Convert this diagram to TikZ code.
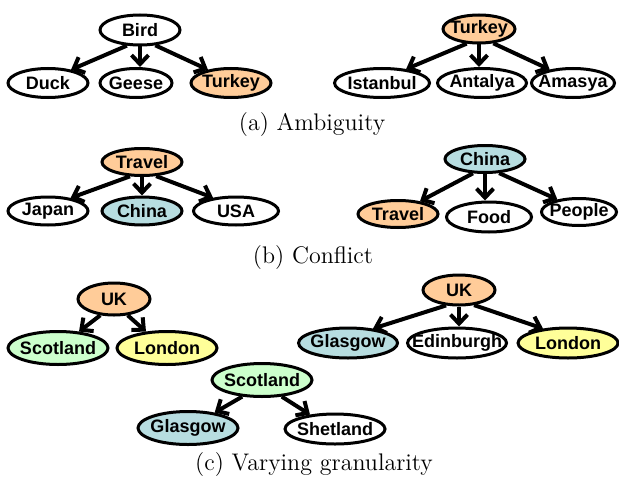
\documentclass[tikz,border=0pt]{standalone}
\usepackage{fontspec}
\usepackage{tikz}
\usetikzlibrary{shapes.geometric,arrows.meta}
\newfontfamily\arialfont{Liberation Sans}
\definecolor{peach}{HTML}{FFCC99}
\definecolor{paleteal}{HTML}{B7DDE0}
\definecolor{mint}{HTML}{CCFFCC}
\definecolor{lemon}{HTML}{FFFF99}

\begin{document}
\begin{tikzpicture}[x=0.5pt, y=-0.5pt,
  main/.style = {draw, ellipse, line width=1.5pt, fill=white, inner xsep=-30pt, inner ysep=-10pt,
    font=\arialfont\bfseries\fontsize{9}{10}\selectfont},
  wh/.style 2 args = {minimum width=#1*0.5pt, minimum height=#2*0.5pt},
  arr/.style = {line width=2pt, -{Straight Barb[length=4.5pt, width=8.5pt]}},
  subcap/.style = {font=\fontsize{12}{14}\selectfont}]
	\useasboundingbox (0,0) rectangle (619,481);
	% (a)
	\node[main, wh={80}{30}] (bird) at (140, 30) {Bird};
	\node[main, wh={80}{29}] (duck) at (48, 83) {Duck};
	\node[main, wh={72}{29}] (geese) at (136, 83) {Geese};
	\node[main, wh={80}{29}, fill=peach] (turkeyA) at (231, 83) {Turkey};
	\node[main, wh={72}{28}, fill=peach] (turkeyB) at (479, 29) {Turkey};
	\node[main, wh={95}{29}] (istanbul) at (382, 83) {Istanbul};
	\node[main, wh={89}{29}] (antalya) at (482, 83) {Antalya};
	\node[main, wh={83}{29}] (amasya) at (573, 83) {Amasya};
	\draw[arr] (bird.-130) -- (duck.30);
	\draw[arr] (bird.south) -- (bird.south |- geese.north);
	\draw[arr] (bird.-45) -- (turkeyA.150);
	\draw[arr] (turkeyB.-130) -- (istanbul.30);
	\draw[arr] (turkeyB.south) -- (turkeyB.south |- antalya.north);
	\draw[arr] (turkeyB.-45) -- (amasya.150);
	\node[subcap] (capA) at (312, 125) {(a) Ambiguity};
	% (b)
	\node[main, wh={80}{27}, fill=peach] (travelA) at (142, 162) {Travel};
	\node[main, wh={80}{28}] (japan) at (48, 211) {Japan};
	\node[main, wh={80}{28}, fill=paleteal] (chinaA) at (142, 211) {China};
	\node[main, wh={85}{28}] (usa) at (236, 211) {USA};
	\node[main, wh={80}{27}, fill=paleteal] (chinaB) at (485, 159) {China};
	\node[main, wh={80}{27}, fill=peach] (travelB) at (398, 214) {Travel};
	\node[main, wh={85}{30}] (food) at (489, 217) {Food};
	\node[main, wh={75}{27}] (people) at (579, 212) {People};
	\draw[arr] (travelA.-130) -- (japan.30);
	\draw[arr] (travelA.south) -- (travelA.south |- chinaA.north);
	\draw[arr] (travelA.-45) -- (usa.150);
	\draw[arr] (chinaB.-130) -- (travelB.30);
	\draw[arr] (chinaB.south) -- (chinaB.south |- food.north);
	\draw[arr] (chinaB.-45) -- (people.150);
	\node[subcap] (capB) at (313, 258) {(b) Conflict};
	% (c)
	\node[main, wh={72}{32}, fill=peach] (ukA) at (114, 299) {UK};
	\node[main, wh={100}{33}, fill=mint] (scotlandA) at (58, 348) {Scotland};
	\node[main, wh={100}{33}, fill=lemon] (londonA) at (167, 348) {London};
	\node[main, wh={100}{33}, fill=mint] (scotlandB) at (262, 380) {Scotland};
	\node[main, wh={100}{33}, fill=paleteal] (glasgowA) at (188, 428) {Glasgow};
	\node[main, wh={100}{30}] (shetland) at (335, 429) {Shetland};
	\node[main, wh={72}{30}, fill=peach] (ukB) at (459, 290) {UK};
	\node[main, wh={99}{30}, fill=paleteal] (glasgowB) at (348, 343) {Glasgow};
	\node[main, wh={99}{30}] (edinburgh) at (457, 343) {Edinburgh};
	\node[main, wh={100}{30}, fill=lemon] (londonB) at (568, 343) {London};
	\draw[arr] (ukA.-130) -- (scotlandA.38);
	\draw[arr] (ukA.-50) -- (londonA.142);
	\draw[arr] (scotlandB.-140) -- (glasgowA.30);
	\draw[arr] (scotlandB.-40) -- (shetland.150);
	\draw[arr] (ukB.-130) -- (glasgowB.30);
	\draw[arr] (ukB.south) -- (ukB.south |- edinburgh.north);
	\draw[arr] (ukB.-45) -- (londonB.150);
	\node[subcap] (capC) at (314, 465) {(c) Varying granularity};
\end{tikzpicture}
\end{document}
